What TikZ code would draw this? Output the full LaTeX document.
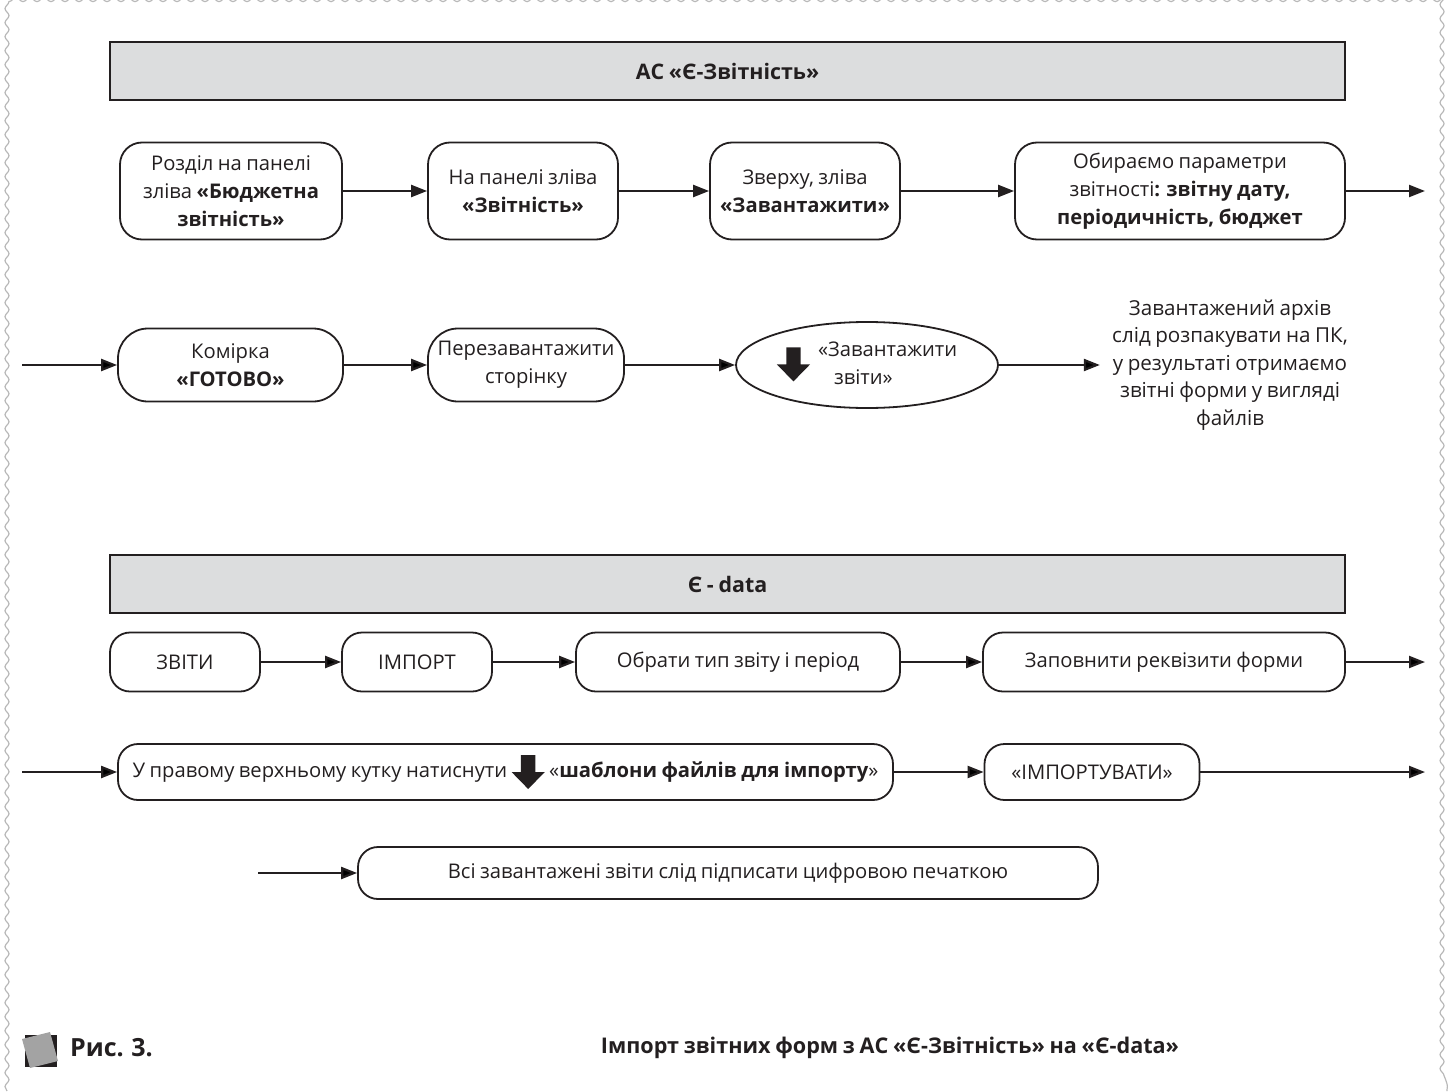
\documentclass[tikz,border=0pt]{standalone}
\usepackage{fontspec}
\setmainfont{Open Sans}[WordSpace=0.85]
\usetikzlibrary{arrows.meta,decorations.pathmorphing,shapes.geometric}
\definecolor{ink}{HTML}{231F20}
\definecolor{headgray}{HTML}{DCDDDE}
\definecolor{framegray}{HTML}{B8B8B8}
\definecolor{markgray}{HTML}{A3A3A3}
\newcommand{\dnicon}{\tikz[baseline={(0,-2.8pt)},x=1pt,y=1pt,sharp corners]\fill[ink] (-3.6,8.5) -- (3.6,8.5) -- (3.6,0) -- (8.3,0) -- (0,-8.5) -- (-8.3,0) -- (-3.6,0) -- cycle;}
\begin{document}
\begin{tikzpicture}[x=0.5pt, y=-0.5pt, >={Triangle[length=8pt,width=6pt]},
		font=\fontsize{10.1}{14}\selectfont,
		stepbox/.style={draw=ink, line width=0.9pt, rounded corners=11pt, align=center, text=ink, inner sep=3pt},
		headbar/.style={draw=ink, line width=1.1pt, fill=headgray, minimum width=617.5pt, minimum height=29pt, font=\fontsize{10.7}{14}\selectfont\bfseries, text=ink},
		flow/.style={->, draw=ink, line width=1.1pt}]
			\useasboundingbox (0,0) rectangle (1454,1091);
			\draw[framegray, line width=0.6pt, decorate, decoration={snake, amplitude=1pt, segment length=7pt}] (7,1091) -- (7,7) -- (1447,7) -- (1447,1091);
			\node[headbar] (hdrA) at (727.5,71) {АС «Є-Звітність»};
			\node[stepbox, minimum width=111pt, minimum height=48.5pt] (rA1) at (231,191) {Розділ на панелі\\зліва \textbf{«Бюджетна}\\\textbf{звітність»}};
			\node[stepbox, minimum width=95pt, minimum height=48.5pt] (rA2) at (523,191) {На панелі зліва\\\textbf{«Звітність»}};
			\node[stepbox, minimum width=95pt, minimum height=48.5pt] (rA3) at (805,191) {Зверху, зліва\\\textbf{«Завантажити»}};
			\node[stepbox, minimum width=165pt, minimum height=48.5pt] (rA4) at (1180,191) {Обираємо параметри\\звітності\textbf{: звітну дату,}\\\textbf{періодичність, бюджет}};
			\coordinate (rAout) at (1425,191);
			\draw[flow] (rA1) -- (rA2);
			\draw[flow] (rA2) -- (rA3);
			\draw[flow] (rA3) -- (rA4);
			\draw[flow] (rA4) -- (rAout);
			\coordinate (rBin) at (22,365);
			\node[stepbox, minimum width=112.5pt, minimum height=36.5pt, rounded corners=15pt] (rB1) at (230.5,365) {Комірка\\\textbf{«ГОТОВО»}};
			\node[stepbox, minimum width=98pt, minimum height=36.5pt, rounded corners=15pt] (rB2) at (526,365) {Перезавантажити\\сторінку};
			\node[ellipse, draw=ink, line width=0.9pt, text=ink, minimum width=131pt, minimum height=43pt, inner sep=0pt] (rB3) at (867,365) {\dnicon\hspace{4pt}\begin{tabular}{@{}l@{}}«Завантажити\\\hspace*{8pt}звіти»\end{tabular}};
			\node[text=ink, align=center, inner sep=6pt, font=\fontsize{10.3}{13.8}\selectfont] (rB4) at (1230,365) {Завантажений архів\\слід розпакувати на ПК,\\у результаті отримаємо\\звітні форми у вигляді\\файлів};
			\draw[flow] (rBin) -- (rB1);
			\draw[flow] (rB1) -- (rB2);
			\draw[flow] (rB2) -- (rB3);
			\draw[flow] (rB3) -- (rB4);
			\node[headbar] (hdrB) at (727.5,584) {Є - data};
			\node[stepbox, minimum width=75pt, minimum height=29.5pt, rounded corners=10pt] (rC1) at (185,662) {ЗВІТИ};
			\node[stepbox, minimum width=75pt, minimum height=29.5pt, rounded corners=10pt] (rC2) at (417,662) {ІМПОРТ};
			\node[stepbox, minimum width=162pt, minimum height=29.5pt, rounded corners=10pt] (rC3) at (738,662) {Обрати тип звіту і період};
			\node[stepbox, minimum width=181pt, minimum height=29.5pt, rounded corners=10pt] (rC4) at (1164,662) {Заповнити реквізити форми};
			\coordinate (rCout) at (1425,662);
			\draw[flow] (rC1) -- (rC2);
			\draw[flow] (rC2) -- (rC3);
			\draw[flow] (rC3) -- (rC4);
			\draw[flow] (rC4) -- (rCout);
			\coordinate (rDin) at (22,772);
			\node[stepbox, minimum width=387.5pt, minimum height=28pt, rounded corners=10pt] (rD1) at (505.5,772) {У правому верхньому кутку натиснути \dnicon\ «\textbf{шаблони файлів для імпорту}»};
			\node[stepbox, minimum width=107.5pt, minimum height=28pt, rounded corners=10pt] (rD2) at (1092,772) {«ІМПОРТУВАТИ»};
			\coordinate (rDout) at (1425,772);
			\draw[flow] (rDin) -- (rD1);
			\draw[flow] (rD1) -- (rD2);
			\draw[flow] (rD2) -- (rDout);
			\coordinate (rEin) at (258,873);
			\node[stepbox, minimum width=370pt, minimum height=26pt, rounded corners=10pt] (rE1) at (728,873) {Всі завантажені звіти слід підписати цифровою печаткою};
			\draw[flow] (rEin) -- (rE1);
			\fill[ink] (25,1035) rectangle (57,1067);
			\fill[markgray] (22,1039) -- (50,1032) -- (58,1061) -- (30,1068) -- cycle;
			\node[anchor=west, text=ink, font=\fontsize{12.5}{15}\selectfont\bfseries] (figno) at (63,1048) {Рис. 3.};
			\node[text=ink, font=\fontsize{10.8}{14}\selectfont\bfseries] (figtitle) at (890,1048) {Імпорт звітних форм з АС «Є-Звітність» на «Є-data»};
		\end{tikzpicture}
\end{document}
